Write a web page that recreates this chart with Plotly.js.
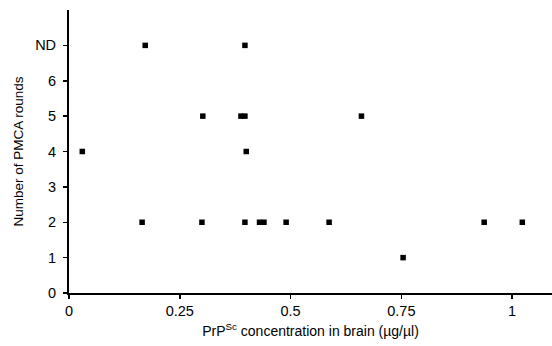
<!DOCTYPE html>
<html>
<head>
<meta charset="utf-8">
<script src="https://cdn.plot.ly/plotly-3.0.1.min.js"></script>
<style>html,body{margin:0;padding:0;background:#fff;}#chart{width:552px;height:346px;}</style>
</head>
<body>
<div id="chart"></div>
<script>
// PrPSc concentration in brain (µg/µl)
var concentration = [0.03, 0.165, 0.172, 0.302, 0.30, 0.388, 0.397, 0.397, 0.40, 0.397, 0.43, 0.44, 0.49, 0.587, 0.66, 0.754, 0.937, 1.023];
// Number of PMCA rounds (7 = ND)
var rounds = [4, 2, 7, 5, 2, 5, 5, 7, 4, 2, 2, 2, 2, 2, 5, 1, 2, 2];
var yTickVals = [0, 1, 2, 3, 4, 5, 6, 7];
var yTickText = ['0', '1', '2', '3', '4', '5', '6', 'ND'];
var xTickVals = [0, 0.25, 0.5, 0.75, 1];
var xTickText = ['0', '0.25', '0.5', '0.75', '1'];

var font = 'Liberation Sans, Arial, sans-serif';
Plotly.newPlot('chart', [{
  x: concentration, y: rounds, type: 'scatter', mode: 'markers',
  marker: {symbol: 'square', size: 5.5, color: '#000'},
  cliponaxis: false, hoverinfo: 'none'
}], {
  width: 552, height: 346,
  margin: {l: 69, r: 0, t: 10, b: 53},
  paper_bgcolor: '#fff', plot_bgcolor: '#fff',
  showlegend: false,
  font: {family: font, color: '#000', size: 14},
  xaxis: {
    range: [0, 1.09], showgrid: false, zeroline: false,
    showline: true, linecolor: '#000', linewidth: 2,
    ticks: 'outside', ticklen: 4, tickwidth: 1.5, tickcolor: '#000',
    tickvals: xTickVals, ticktext: xTickText,
    tickfont: {family: font, size: 14.5},
    title: {text: 'PrP<sup>Sc</sup> concentration in brain (µg/µl)', font: {family: font, size: 14}, standoff: 8}
  },
  yaxis: {
    range: [0, 8], showgrid: false, zeroline: false,
    showline: true, linecolor: '#000', linewidth: 2,
    ticks: 'outside', ticklen: 4, tickwidth: 1.5, tickcolor: '#000',
    tickvals: yTickVals, ticktext: yTickText,
    ticklabelstandoff: 4,
    tickfont: {family: font, size: 14.5},
    title: {text: 'Number of PMCA rounds', font: {family: font, size: 13.5}, standoff: 8}
  }
}, {staticPlot: true});
</script>
</body>
</html>
